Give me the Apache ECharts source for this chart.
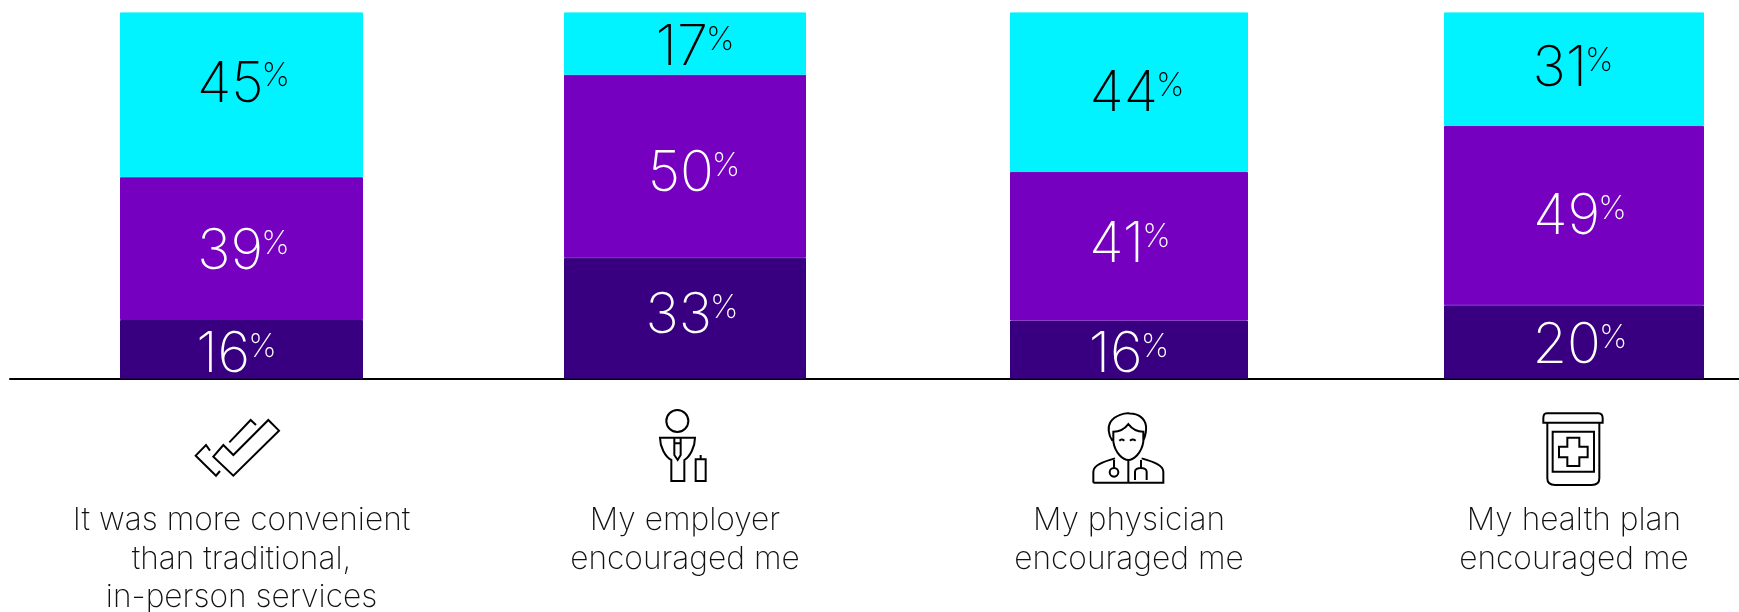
<!DOCTYPE html>
<html><head><meta charset="utf-8">
<style>html,body{margin:0;padding:0;background:#fff}#c{width:1739px;height:612px}</style>
<script src="https://cdn.jsdelivr.net/npm/echarts@6/dist/echarts.min.js"></script>
</head><body><div id="c"></div>
<script>
const categories = ['It was more convenient\nthan traditional,\nin-person services','My employer\nencouraged me','My physician\nencouraged me','My health plan\nencouraged me'];
const darkValues = [16,33,16,20];
const purpleValues = [39,50,41,49];
const cyanValues = [45,17,44,31];

const FONT = 'Inter';
const colors = {dark:'#380080', purple:'#7500C0', cyan:'#00F3FF'};
const barWidths = [243,242,238,260];
const columnEdges = [[10,473],[473,897],[897,1361],[1361,1787]];
const BASE_Y = 378.6, TOP_Y = 12.4;
// label nudges [dx, dy] per column for each band
const darkNudge = [[-5,6],[7,-2],[0,6],[6,4]];
const purpleNudge = [[2,4],[9,8],[1,-1],[6,2]];
const cyanNudge = [[2,-10],[10,5],[8,2],[-1,0]];

const icons = [
 {o:[180,400], box:[47,60,297,227], d:'M100 170L130 135L160 165L265 60L297 92L160 227ZM148 127L212 60L228 75M90 152L78 135L47 167L108 227L120 213'},
 {o:[640,400], box:[60,30,197,243], d:'M79 63A33 33 0 1 1 145 63A33 33 0 1 1 79 63ZM60 113L165 113C165 140 150 170 133 180L133 243L94 243L94 180C75 170 60 140 60 113ZM103 113L103 165L113 180L122 165L122 113M106 130L120 130M167 178L197 178L197 243L167 243ZM182 165L182 178'},
 {o:[1080,400], box:[40,40,250,248], d:'M97 122C85 105 82 80 92 65C105 45 135 38 150 40C175 40 195 55 198 78C200 95 195 110 190 122M100 95C118 95 135 85 145 72C155 85 172 95 190 95L190 125C185 160 160 180 145 180C130 180 105 160 100 125ZM118 122Q125 115 133 122M150 122Q158 115 167 122M40 248L40 215C40 195 70 185 105 175M185 175C220 185 250 195 250 215L250 248L40 248M145 178L145 248M115 217A13 13 0 1 1 89 217A13 13 0 1 1 115 217ZM102 204L102 180M165 240L165 215C165 200 200 200 200 215L200 240M183 180L183 203'},
 {o:[1530,400], box:[40,40,218,255], d:'M50 40L205 40Q218 40 218 55L218 68L40 68L40 55Q40 40 50 40ZM52 68L52 235Q52 255 75 255L185 255Q208 255 208 235L208 68M68 95L192 95L192 215L68 215ZM112 113L148 113L148 140L173 140L173 172L148 172L148 198L112 198L112 172L87 172L87 140L112 140Z'}
];

function richLabel(color, nudge){
  return {
    show:true, position:'inside', offset:nudge,
    formatter:p=>`{n|${p.value}}{p|%}`,
    rich:{
      n:{fontFamily:FONT,fontWeight:200,fontSize:56,color,lineHeight:60,verticalAlign:'middle'},
      p:{fontFamily:FONT,fontWeight:200,fontSize:32,color,lineHeight:60,verticalAlign:'top',padding:[6,0,0,-2]}
    }
  };
}
const grid=[],xAxis=[],yAxis=[],series=[];
categories.forEach((cat,i)=>{
  const [l,r]=columnEdges[i];
  grid.push({left:l,width:r-l,top:TOP_Y,height:BASE_Y-TOP_Y,outerBoundsMode:'none',containLabel:false});
  xAxis.push({type:'category',gridIndex:i,data:[cat],
    axisLine:{show:true,onZero:false,lineStyle:{color:'#000',width:2}},axisTick:{show:false},
    axisLabel:{interval:0,hideOverlap:false,margin:123,color:'#111',fontFamily:FONT,fontWeight:200,fontSize:31.7,lineHeight:38.5,align:'center'}});
  yAxis.push({type:'value',gridIndex:i,min:0,max:darkValues[i]+purpleValues[i]+cyanValues[i],show:false,splitLine:{show:false}});
  [['dark',darkValues,darkNudge,'#fff'],['purple',purpleValues,purpleNudge,'#fff'],['cyan',cyanValues,cyanNudge,'#000']].forEach(([k,arr,n,tc])=>{
    series.push({type:'bar',name:k,xAxisIndex:i,yAxisIndex:i,stack:'s'+i,barWidth:barWidths[i],
      itemStyle:{color:colors[k],borderColor:colors[k],borderWidth:1},label:richLabel(tc,n[i]),data:[arr[i]],silent:true,animation:false});
  });
});
series.push({type:'custom',coordinateSystem:'none',silent:true,animation:false,data:icons.map((_,i)=>i),
  renderItem:(params)=>{
    const ic=icons[params.dataIndex];
    const [x0,y0,x1,y1]=ic.box;
    return {type:'path',
      shape:{pathData:ic.d,layout:'cover',x:ic.o[0]+x0/3,y:ic.o[1]+y0/3,width:(x1-x0)/3,height:(y1-y0)/3},
      style:{fill:'none',stroke:'#000',lineWidth:2}};
  }});
const chart=echarts.init(document.getElementById('c'),null,{renderer:'canvas'});
chart.setOption({animation:false,backgroundColor:'#fff',grid,xAxis,yAxis,series});
</script></body></html>
